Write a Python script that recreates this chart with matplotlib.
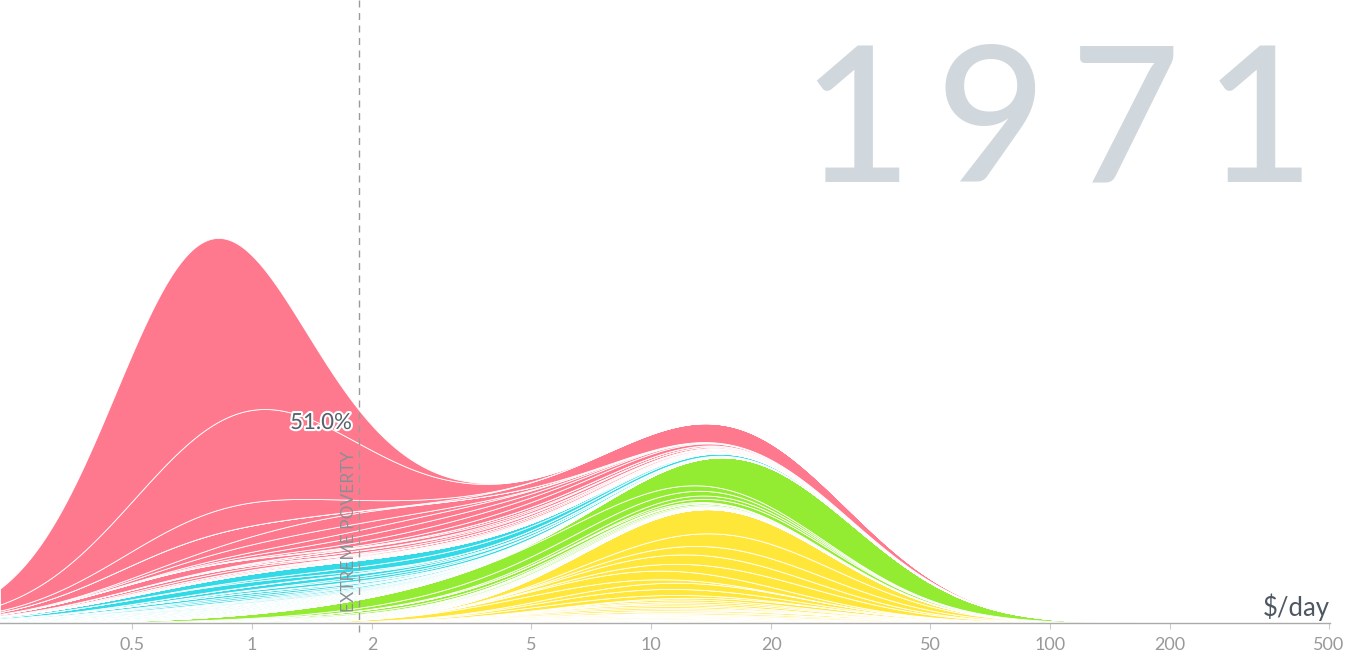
import numpy as np
import matplotlib.pyplot as plt
import matplotlib.patheffects as pe

# Income mountain 1971 - every country is a log-normal bump
# pop = millions, income = typical $/day, spread = std dev of log10(income)

europe_names = ["Russia", "Germany", "UK", "Italy", "France", "Ukraine", "Turkey", "Spain",
                "Poland", "Romania", "Netherlands", "Hungary", "Czech Rep.", "Belgium", "Belarus",
                "Greece", "Portugal", "Bulgaria", "Sweden", "Serbia", "Austria", "Switzerland",
                "Azerbaijan", "Denmark", "Georgia", "Finland", "Slovakia", "Croatia", "Norway",
                "Bosnia", "Moldova", "Lithuania", "Ireland", "Armenia", "Latvia", "Albania",
                "Slovenia", "Macedonia", "Estonia", "Cyprus", "Montenegro", "Luxembourg",
                "Malta", "Iceland"]
europe_pop = [131, 78, 56, 54, 52, 47, 36, 34, 33, 20.5, 13.2, 10.4, 9.8, 9.7, 9.1,
              8.8, 8.7, 8.5, 8.1, 8.0, 7.5, 6.3, 5.2, 5.0, 4.7, 4.6, 4.5, 4.4, 3.9,
              3.8, 3.6, 3.2, 3.0, 2.5, 2.4, 2.2, 1.7, 1.6, 1.4, 0.6, 0.5, 0.34, 0.3, 0.2]
europe_income = [13.8, 18.5, 18.5, 14.7, 18.5, 10.4, 5.4, 12.5, 10.4, 7.4, 20.8, 12.5, 13.8,
                 18.5, 10.4, 11.6, 8.6, 8.2, 20.8, 9.3, 17.3, 27, 6.6, 20.8, 7.4, 16.4, 10.9,
                 10.4, 18.5, 5.8, 5.8, 10.9, 12.5, 6.6, 12.5, 4.2, 13.8, 6.6, 12.5, 11.6, 7.4,
                 32.9, 9.3, 20.8]
europe_spread = [0.27] * len(europe_pop)

americas_names = ["USA", "Brazil", "Mexico", "Argentina", "Colombia", "Canada", "Peru",
                  "Venezuela", "Chile", "Cuba", "Ecuador", "Guatemala", "Haiti", "Dominican Rep.",
                  "Bolivia", "El Salvador", "Uruguay", "Honduras", "Puerto Rico", "Paraguay",
                  "Nicaragua", "Costa Rica", "Jamaica", "Panama", "Trinidad", "Guyana",
                  "Suriname", "Bahamas", "Barbados", "Belize"]
americas_pop = [207, 98, 52, 24, 22, 22, 13.5, 11, 9.7, 8.7, 6.2, 5.5, 4.6, 4.5, 4.4, 3.7,
                2.8, 2.7, 2.7, 2.4, 2.3, 1.9, 1.9, 1.5, 1.0, 0.7, 0.37, 0.18, 0.24, 0.12]
americas_income = [23, 4, 6.3, 11.2, 4, 21, 3.5, 10, 8, 5.6, 3.5, 2.8, 1.26, 3.2, 2, 3.5,
                   10, 2.2, 14, 3.5, 4, 6.3, 6.3, 6.3, 12.6, 4, 6.3, 20, 12, 4]
americas_spread = [0.26, 0.42, 0.38, 0.35, 0.35, 0.27, 0.35, 0.35, 0.35, 0.3, 0.35, 0.35,
                   0.3, 0.35, 0.35, 0.35, 0.3, 0.35, 0.3, 0.35, 0.35, 0.35, 0.35, 0.35,
                   0.3, 0.3, 0.3, 0.3, 0.3, 0.3]

africa_names = ["Nigeria", "Egypt", "Ethiopia", "South Africa", "DR Congo", "Morocco", "Sudan",
                "Algeria", "Tanzania", "Kenya", "Uganda", "Mozambique", "Ghana", "Madagascar",
                "Cameroon", "Angola", "Ivory Coast", "Burkina Faso", "Mali", "Zimbabwe",
                "Tunisia", "Malawi", "Niger", "Zambia", "Senegal", "Guinea", "Chad", "Rwanda",
                "Somalia", "Burundi", "South Sudan", "Benin", "Sierra Leone", "Eritrea", "Togo",
                "Libya", "CAR", "Liberia", "Congo", "Mauritania", "Lesotho", "Mauritius",
                "Namibia", "Botswana", "Guinea-Bissau", "Gabon", "Gambia", "Swaziland"]
africa_pop = [56, 35, 29, 22.5, 21, 16, 15, 14.5, 13.6, 11.6, 10, 9.6, 9, 7, 7, 6.2, 6,
              5.7, 5.6, 5.5, 5.2, 4.6, 4.6, 4.3, 4.3, 4.3, 3.7, 3.8, 3.5, 3.5, 3.0, 2.8,
              2.6, 2.4, 2.1, 2.1, 1.9, 1.5, 1.4, 1.2, 1.1, 0.85, 0.8, 0.7, 0.6, 0.55, 0.5, 0.45]
africa_income = [1.5, 3.0, 0.71, 8, 1.26, 3.2, 1.6, 4.5, 0.71, 1.26, 1.0, 0.8, 2.0, 1.26,
                 1.6, 2.0, 2.5, 0.56, 0.63, 2.2, 4.0, 0.63, 0.8, 2.0, 1.6, 0.9, 0.71, 0.8,
                 0.8, 0.56, 0.63, 1.0, 1.0, 0.63, 1.0, 20, 0.9, 1.26, 2.2, 1.6, 0.8, 5.0,
                 5.0, 1.6, 0.8, 10, 1.0, 2.5]
africa_spread = [0.42, 0.32, 0.28, 0.4, 0.3, 0.32] + [0.3] * 42

asia_names = ["China", "India", "Indonesia", "Japan", "Bangladesh", "Pakistan", "Vietnam",
              "Philippines", "Thailand", "South Korea", "Iran", "Myanmar", "North Korea",
              "Taiwan", "Sri Lanka", "Kazakhstan", "Afghanistan", "Nepal", "Uzbekistan",
              "Malaysia", "Iraq", "Cambodia", "Syria", "Saudi Arabia", "Yemen", "Hong Kong",
              "Israel", "Tajikistan", "Kyrgyzstan", "Laos", "Lebanon", "Turkmenistan",
              "Singapore", "Jordan", "Mongolia", "Kuwait", "Oman", "UAE", "Bahrain", "Qatar",
              "Bhutan", "Timor-Leste"]
asia_pop = [840, 500, 118, 106, 66, 60, 44, 38, 37, 33, 30, 28, 15, 15, 13, 13, 12, 12, 12,
            11, 10, 7, 6.6, 6, 6, 4, 3, 3, 3, 2.7, 2.5, 2.3, 2.1, 1.7, 1.3, 0.8, 0.7, 0.3,
            0.2, 0.1, 0.3, 0.6]
asia_income = [0.72, 1.0, 0.9, 14.1, 0.66, 1.6, 1.3, 2.2, 2.5, 3.5, 5.6, 0.6, 2.5, 6.3,
               2.0, 7, 0.9, 0.66, 4, 4, 6.3, 0.75, 4, 20, 1.0, 11, 18, 3, 3.5, 0.71, 8, 4.5,
               10, 4, 1.6, 40, 6, 40, 15, 50, 1.0, 1.0]
asia_spread = [0.22, 0.27, 0.25, 0.28, 0.22, 0.28, 0.27, 0.3, 0.3, 0.3, 0.3, 0.23, 0.28, 0.3,
               0.28, 0.28, 0.25, 0.23, 0.28, 0.3, 0.3, 0.25, 0.3, 0.3, 0.25, 0.3, 0.3, 0.28,
               0.28, 0.25, 0.3, 0.28, 0.3, 0.3, 0.28, 0.3, 0.3, 0.3, 0.3, 0.3, 0.25, 0.25]

poverty_line = 1.85
poverty_share = "51.0%"
year = "1971"
tick_values = [0.5, 1, 2, 5, 10, 20, 50, 100, 200, 500]
tick_labels = ["0.5", "1", "2", "5", "10", "20", "50", "100", "200", "500"]

plt.rcParams['font.family'] = ['Lato', 'DejaVu Sans']

W, H = 1345, 671
fig = plt.figure(figsize=(W / 100, H / 100), dpi=100)
ax = fig.add_axes([0, (H - 623) / H, 1330 / W, 623 / H])

x = np.logspace(np.log10(0.2335), np.log10(503), 900)
u = np.log10(x)


def bump(pop, income, spread):
    # people per decade of income
    return pop * np.exp(-0.5 * ((u - np.log10(income)) / spread) ** 2) / (spread * np.sqrt(2 * np.pi))


# bottom to top: europe, americas, africa, asia; inside a region the biggest sits on top
regions = [
    (europe_pop, europe_income, europe_spread, "#ffe739"),
    (americas_pop, americas_income, americas_spread, "#93ec32"),
    (africa_pop, africa_income, africa_spread, "#31dae6"),
    (asia_pop, asia_income, asia_spread, "#ff798e"),
]

base = np.zeros_like(x)
for pops, incomes, spreads, color in regions:
    for i in np.argsort(pops, kind="stable"):
        top = base + bump(pops[i], incomes[i], spreads[i])
        ax.fill_between(x, base, top, facecolor=color, edgecolor="white", linewidth=0.6)
        base = top

ax.set_xscale("log")
ax.set_xlim(0.2335, 503)
ax.set_ylim(0, 623 / 0.125)
ax.set_xticks(tick_values)
ax.set_xticklabels(tick_labels)
ax.minorticks_off()
ax.set_yticks([])
for side in ["top", "left", "right"]:
    ax.spines[side].set_visible(False)
ax.spines["bottom"].set_color("#aaaaaa")
ax.spines["bottom"].set_linewidth(1)
ax.spines["bottom"].set_zorder(5)
ax.tick_params(axis="x", length=4, color="#cccccc", labelsize=13, labelcolor="#999999", pad=6)

# extreme poverty line
ax.plot([poverty_line, poverty_line], [-70, 623 / 0.125], color="#9a9a9a", lw=1,
        dashes=(5, 4), clip_on=False, zorder=6)
fig.text(349 / W, 1 - 612 / H, "EXTREME POVERTY", rotation=90, ha="center", va="bottom",
         fontsize=12.5, color="#8a8f95", zorder=7)
fig.text(321 / W, 1 - 423 / H, poverty_share, ha="center", va="center", fontsize=16,
         color="#56616b", zorder=7,
         path_effects=[pe.withStroke(linewidth=3, foreground="white")])

fig.text(1330 / W, 1 - 616 / H, "$/day", ha="right", va="baseline", fontsize=18.5, color="#4d5862")
fig.text(1315 / W, 1 - 182 / H, "\u200a\u200a".join(year), ha="right", va="baseline",
         fontsize=137, fontweight="medium", color="#d0d7dd")

fig.savefig("out.png", dpi=100)
